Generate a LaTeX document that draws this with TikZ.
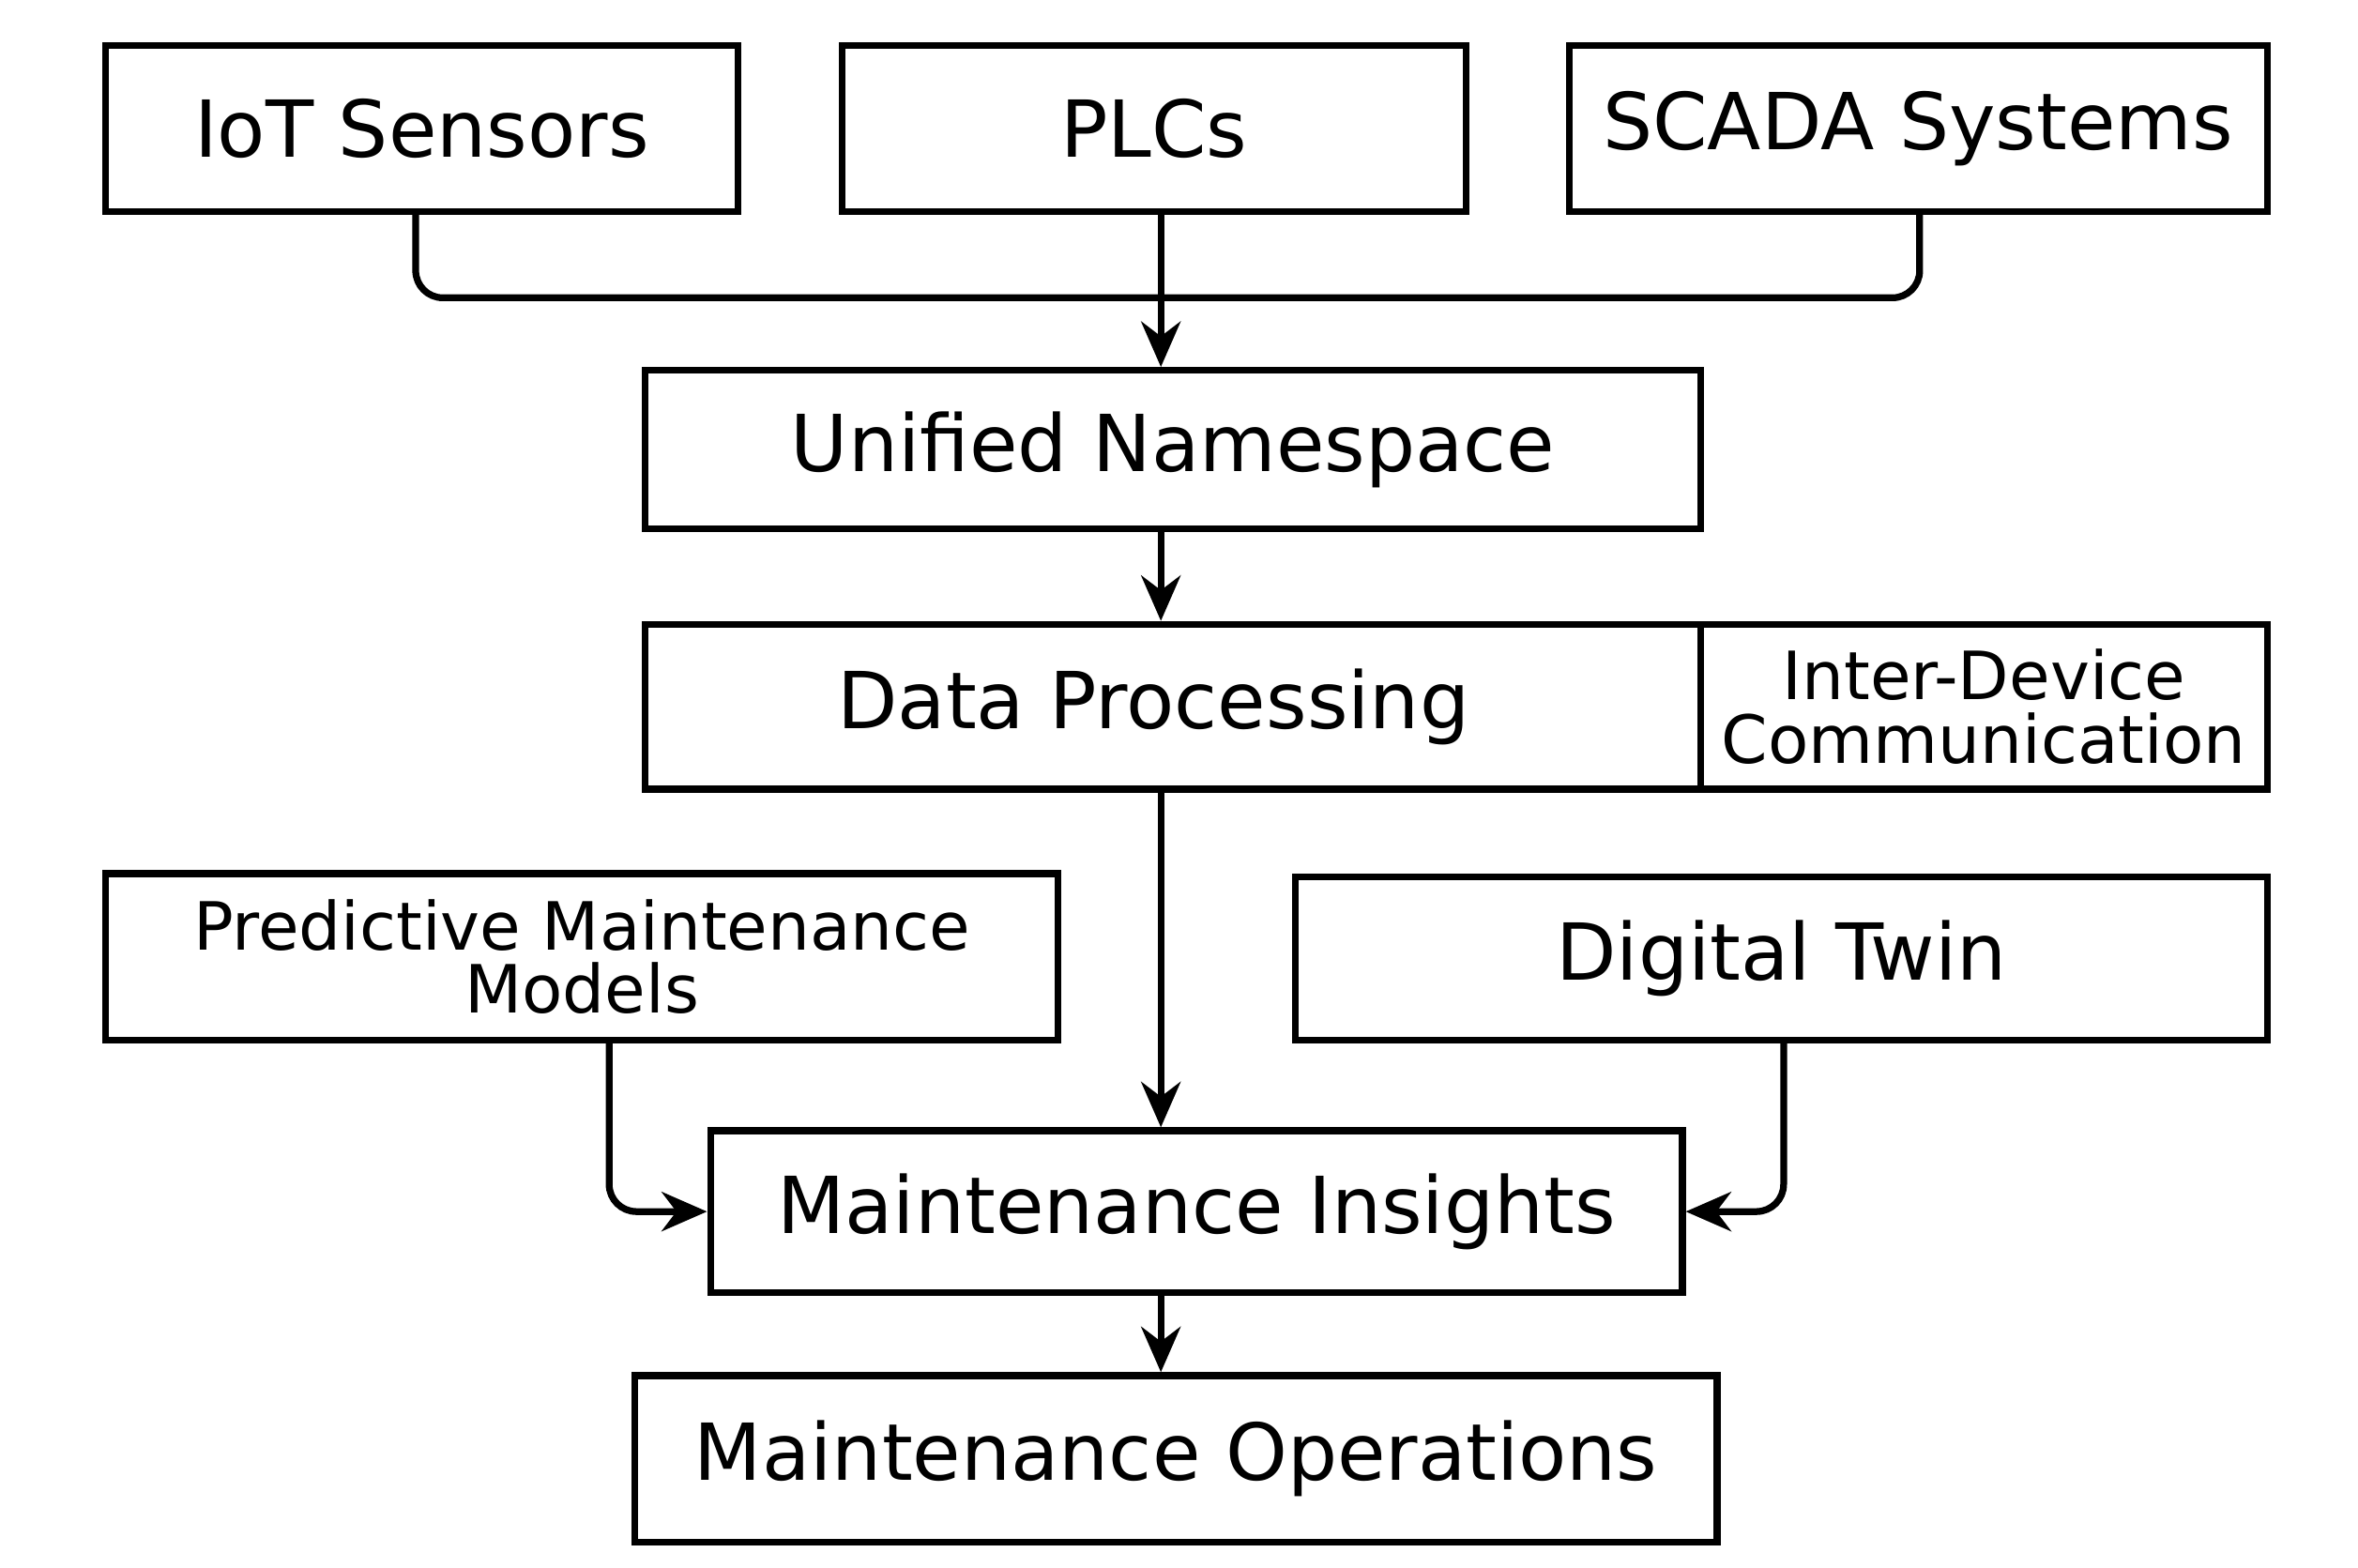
\documentclass[tikz,border=0pt]{standalone}
\usepackage{fontspec}
\setmainfont{DejaVu Sans}
\usetikzlibrary{arrows.meta}
\begin{document}
\begin{tikzpicture}[x=1pt,y=-1pt,
  box/.style={draw,line width=4.5pt,inner sep=0pt,font=\fontsize{52}{56}\selectfont},
  small/.style={box,font=\fontsize{44}{42}\selectfont,align=center},
  arr/.style={line width=4.5pt,-{Stealth[length=30pt,width=26pt]}},
  ln/.style={line width=4.5pt,rounded corners=18pt}]
\useasboundingbox[fill=white] (0,0) rectangle (1560,1037);
\node[box,minimum width=418,minimum height=110] (iot) at (279,85) {IoT Sensors};
\node[box,minimum width=413,minimum height=110] (plc) at (763.5,85) {PLCs};
\node[box,minimum width=462,minimum height=110] (scada) at (1269,85) {SCADA Systems};
\node[box,minimum width=698,minimum height=105] (uns) at (776,297.5) {Unified Namespace};
\node[box,minimum width=698,minimum height=109] (dp) at (776,467.5) {\hspace*{-26pt}Data Processing};
\node[small,minimum width=375,minimum height=109] (idc) at (1312.5,467.5) {Inter-Device\\Communication};
\node[small,minimum width=630,minimum height=110] (pmm) at (385,633) {Predictive Maintenance\\Models};
\node[box,minimum width=643,minimum height=108] (dt) at (1178.5,634) {Digital Twin};
\node[box,minimum width=643,minimum height=107] (mi) at (791.5,801.5) {Maintenance Insights};
\node[box,minimum width=716,minimum height=110] (mo) at (778,965) {Maintenance Operations};
\coordinate (jl) at (275,197);
\coordinate (jr) at (1270,197);
\draw[ln] (iot.south -| jl) -- (jl) -- (jr) -- (scada.south -| jr);
\draw[arr] (plc.south -| 768,0) -- (uns.north -| 768,0);
\draw[arr] (uns.south -| 768,0) -- (dp.north -| 768,0);
\draw[arr] (dp.south -| 768,0) -- (mi.north -| 768,0);
\draw[arr] (mi.south -| 768,0) -- (mo.north -| 768,0);
\draw[arr,rounded corners=18pt] (pmm.south -| 403,0) |- (mi.west);
\draw[arr,rounded corners=18pt] (dt.south -| 1180,0) |- (mi.east);
\end{tikzpicture}
\end{document}
